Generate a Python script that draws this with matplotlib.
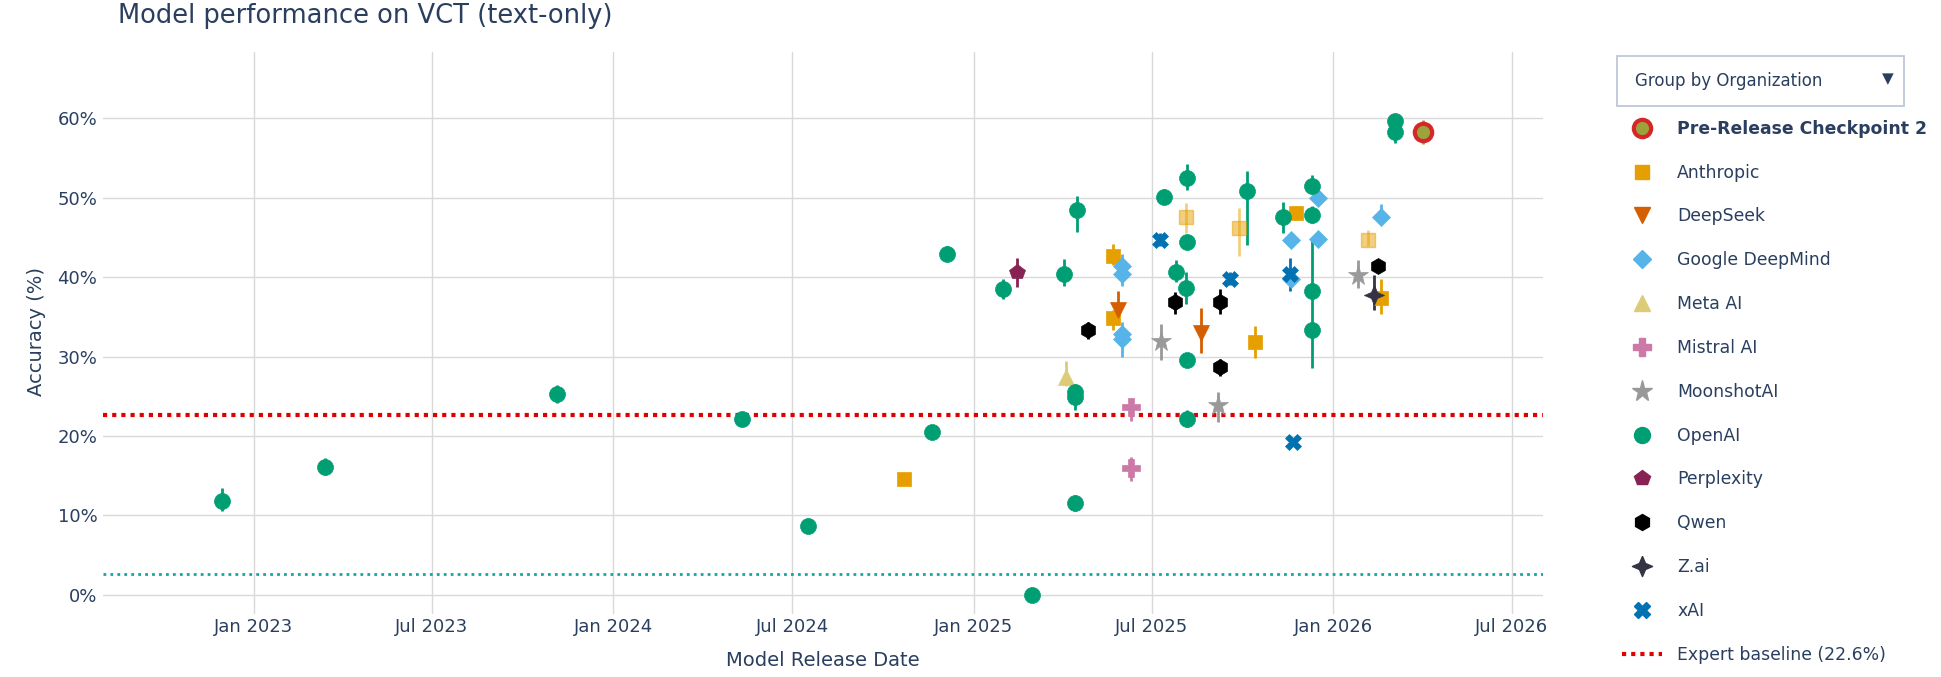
import numpy as np
import matplotlib
matplotlib.use('Agg')
import matplotlib.pyplot as plt
import matplotlib.dates as mdates
from matplotlib.lines import Line2D
from matplotlib.patches import Rectangle
from matplotlib.ticker import FuncFormatter, MultipleLocator

plt.rcParams['font.family'] = ['DejaVu Sans']
TEXT = '#2a3f5f'

# ---------- data: (release date, accuracy %, err below, err above) ----------
anthropic = [
    ("2024-10-22", 14.6, 0.4, 0.4),
    ("2025-05-22", 42.7, 1.2, 1.4),
    ("2025-05-22", 34.8, 1.5, 1.0),
    ("2025-10-14", 31.8, 2.0, 2.0),
    ("2025-11-24", 48.1, 0.9, 0.9),
    ("2026-02-18", 37.4, 2.1, 2.3),
]
anthropic_faded = [
    ("2025-08-04", 47.5, 1.9, 1.8),
    ("2025-09-27", 46.2, 3.6, 2.5),
    ("2026-02-05", 44.7, 0.8, 1.2),
]
deepseek = [
    ("2025-05-27", 35.9, 1.3, 2.3),
    ("2025-08-20", 32.9, 2.5, 3.2),
]
google = [
    ("2025-06-01", 41.4, 1.0, 1.5),
    ("2025-06-01", 40.4, 1.5, 1.0),
    ("2025-06-01", 32.8, 1.5, 1.6),
    ("2025-06-01", 32.2, 2.2, 1.0),
    ("2025-11-19", 44.6, 0.7, 0.7),
    ("2025-11-19", 39.7, 1.0, 1.0),
    ("2025-12-16", 50.0, 0.8, 0.8),
    ("2025-12-16", 44.8, 0.8, 0.8),
    ("2026-02-18", 47.6, 0.8, 1.6),
]
meta = [("2025-04-05", 27.4, 1.1, 2.0)]
mistral = [
    ("2025-06-10", 23.6, 1.7, 1.1),
    ("2025-06-10", 16.0, 1.6, 1.4),
]
moonshot = [
    ("2025-07-10", 31.9, 2.3, 2.2),
    ("2025-09-06", 23.9, 2.1, 1.6),
    ("2026-01-26", 40.3, 1.7, 1.9),
]
openai = [
    ("2022-11-30", 11.8, 1.2, 1.6),
    ("2023-03-14", 16.1, 1.0, 1.1),
    ("2023-11-05", 25.3, 1.2, 1.1),
    ("2024-05-11", 22.2, 0.7, 0.7),
    ("2024-07-17", 8.7, 0.5, 0.5),
    ("2024-11-20", 20.5, 0.6, 0.6),
    ("2024-12-05", 42.9, 0.9, 1.0),
    ("2025-01-31", 38.5, 1.2, 1.2),
    ("2025-03-01", 0.0, 0.0, 0.0),
    ("2025-04-03", 40.4, 1.5, 1.9),
    ("2025-04-16", 48.4, 2.7, 1.8),
    ("2025-04-14", 25.6, 1.0, 1.0),
    ("2025-04-14", 24.9, 1.6, 1.0),
    ("2025-04-14", 11.6, 1.0, 1.0),
    ("2025-07-13", 50.1, 0.8, 1.0),
    ("2025-07-25", 40.6, 1.2, 1.5),
    ("2025-08-04", 38.6, 2.0, 2.0),
    ("2025-08-06", 52.5, 1.6, 1.7),
    ("2025-08-06", 44.4, 0.6, 0.6),
    ("2025-08-06", 29.6, 0.7, 0.7),
    ("2025-08-06", 22.1, 1.0, 1.2),
    ("2025-10-05", 50.8, 6.8, 2.6),
    ("2025-11-11", 47.6, 2.0, 1.8),
    ("2025-12-10", 51.4, 0.9, 1.4),
    ("2025-12-10", 47.8, 1.0, 1.2),
    ("2025-12-10", 38.3, 1.0, 1.0),
    ("2025-12-10", 33.4, 4.9, 11.3),
    ("2026-03-05", 59.6, 0.8, 0.8),
    ("2026-03-05", 58.2, 1.3, 1.3),
]
perplexity = [("2025-02-14", 40.6, 1.9, 1.8)]
qwen = [
    ("2025-04-27", 33.4, 1.2, 1.0),
    ("2025-07-24", 36.8, 1.5, 1.3),
    ("2025-09-08", 36.9, 1.5, 1.6),
    ("2025-09-08", 28.7, 1.2, 1.0),
    ("2026-02-15", 41.4, 0.7, 0.7),
]
zai = [("2026-02-11", 37.7, 1.8, 2.6)]
xai = [
    ("2025-07-09", 44.7, 0.8, 0.8),
    ("2025-09-18", 39.8, 0.8, 0.8),
    ("2025-11-18", 40.4, 2.2, 2.0),
    ("2025-11-21", 19.2, 0.5, 0.5),
]
checkpoint = [("2026-04-02", 58.3, 1.5, 1.5)]

expert_baseline = 22.6
floor_baseline = 2.6

# 4-pointed star (plotly 'star-diamond')
STAR4 = [(0, 1), (0.3, 0.3), (1, 0), (0.3, -0.3), (0, -1),
         (-0.3, -0.3), (-1, 0), (-0.3, 0.3), (0, 1)]

# name, rows, colour, marker, size
series = [
    ('Anthropic', anthropic, '#E69F00', 's', 10),
    ('DeepSeek', deepseek, '#D55E00', 'v', 11.5),
    ('Google DeepMind', google, '#56B4E9', 'D', 9.5),
    ('Meta AI', meta, '#DDCC77', '^', 11.5),
    ('Mistral AI', mistral, '#CC79A7', 'P', 12.5),
    ('MoonshotAI', moonshot, '#999999', '*', 15.5),
    ('OpenAI', openai, '#009E73', 'o', 11.5),
    ('Perplexity', perplexity, '#882255', 'p', 11.5),
    ('Qwen', qwen, '#000000', 'h', 11.5),
    ('Z.ai', zai, '#333344', STAR4, 14.5),
    ('xAI', xai, '#0072B2', 'X', 11.5),
]


def unpack(rows):
    d = mdates.date2num(np.array([r[0] for r in rows], dtype='datetime64[D]'))
    y = np.array([r[1] for r in rows])
    lo = np.array([r[2] for r in rows])
    hi = np.array([r[3] for r in rows])
    return d, y, lo, hi


fig = plt.figure(figsize=(19.41, 6.77), dpi=100)
ax = fig.add_axes([0.053, 0.093, 0.742, 0.830])

for name, rows, color, marker, ms in series:
    d, y, lo, hi = unpack(rows)
    ax.errorbar(d, y, yerr=[lo, hi], fmt='none', ecolor=color, elinewidth=2, capsize=0, zorder=3)
    ax.plot(d, y, ls='none', marker=marker, ms=ms, color=color, mec=color, mew=0.5, zorder=4)
    if name == 'Anthropic':
        d, y, lo, hi = unpack(anthropic_faded)
        ax.errorbar(d, y, yerr=[lo, hi], fmt='none', ecolor=color, elinewidth=2, capsize=0,
                    alpha=0.5, zorder=3)
        ax.plot(d, y, ls='none', marker=marker, ms=ms, color=color, mec=color, alpha=0.5, zorder=4)

d, y, lo, hi = unpack(checkpoint)
ax.errorbar(d, y, yerr=[lo, hi], fmt='none', ecolor='#9AA33C', elinewidth=2, capsize=0, zorder=5)
ax.plot(d, y, ls='none', marker='o', ms=12.5, mfc='#9AA33C', mec='#D62728', mew=3, zorder=6)

ax.axhline(expert_baseline, color='#E00000', lw=3, ls=(0, (1, 1.2)), zorder=2)
ax.axhline(floor_baseline, color='#17A3A3', lw=2, ls=(0, (1, 1.5)), zorder=2)

# ---------- axes ----------
ax.set_xlim(mdates.date2num(np.datetime64('2022-08-01')), mdates.date2num(np.datetime64('2026-08-02')))
ax.set_ylim(-2.4, 68.3)
ax.xaxis.set_major_locator(mdates.MonthLocator(bymonth=[1, 7]))
ax.xaxis.set_major_formatter(mdates.DateFormatter('%b %Y'))
ax.yaxis.set_major_locator(MultipleLocator(10))
ax.yaxis.set_major_formatter(FuncFormatter(lambda v, p: f'{v:.0f}%'))
ax.tick_params(length=0, labelsize=13, colors=TEXT)
ax.tick_params(axis='x', pad=3)
ax.tick_params(axis='y', pad=4)
for s in ax.spines.values():
    s.set_visible(False)
ax.grid(True, color='#d9d9d9', lw=1)
ax.set_axisbelow(True)

fig.text(0.0608, 0.977, 'Model performance on VCT (text-only)', fontsize=18.5, color=TEXT, va='center')
fig.text(0.0186, 0.511, 'Accuracy (%)', fontsize=14, color=TEXT, rotation=90, va='center', ha='center')
fig.text(0.424, 0.024, 'Model Release Date', fontsize=14, color=TEXT, va='center', ha='center')

# ---------- dropdown ----------
fig.patches.append(Rectangle((0.833, 0.843), 0.148, 0.074, transform=fig.transFigure,
                             facecolor='white', edgecolor='#BEC8D9', lw=1.3))
fig.text(0.8425, 0.880, 'Group by Organization', fontsize=12, color=TEXT, va='center')
fig.text(0.9725, 0.884, '\u25BC', fontsize=11, color=TEXT, va='center', ha='center')

# ---------- legend ----------
handles = [Line2D([], [], ls='none', marker='o', ms=12.5, mfc='#9AA33C', mec='#D62728', mew=3)]
labels = ['Pre-Release Checkpoint 2']
for name, rows, color, marker, ms in series:
    handles.append(Line2D([], [], ls='none', marker=marker, ms=ms, color=color))
    labels.append(name)
handles.append(Line2D([], [], color='#E00000', lw=3, ls=(0, (1, 1.2))))
labels.append(f'Expert baseline ({expert_baseline}%)')

leg = fig.legend(handles, labels, loc='upper left', bbox_to_anchor=(0.8357, 0.823),
                 frameon=False, fontsize=12.4, labelspacing=1.5, handlelength=2.3,
                 handletextpad=0.9, borderaxespad=0, borderpad=0)
for t in leg.get_texts():
    t.set_color(TEXT)
leg.get_texts()[0].set_fontweight('bold')

fig.savefig('out.png', dpi=100)
